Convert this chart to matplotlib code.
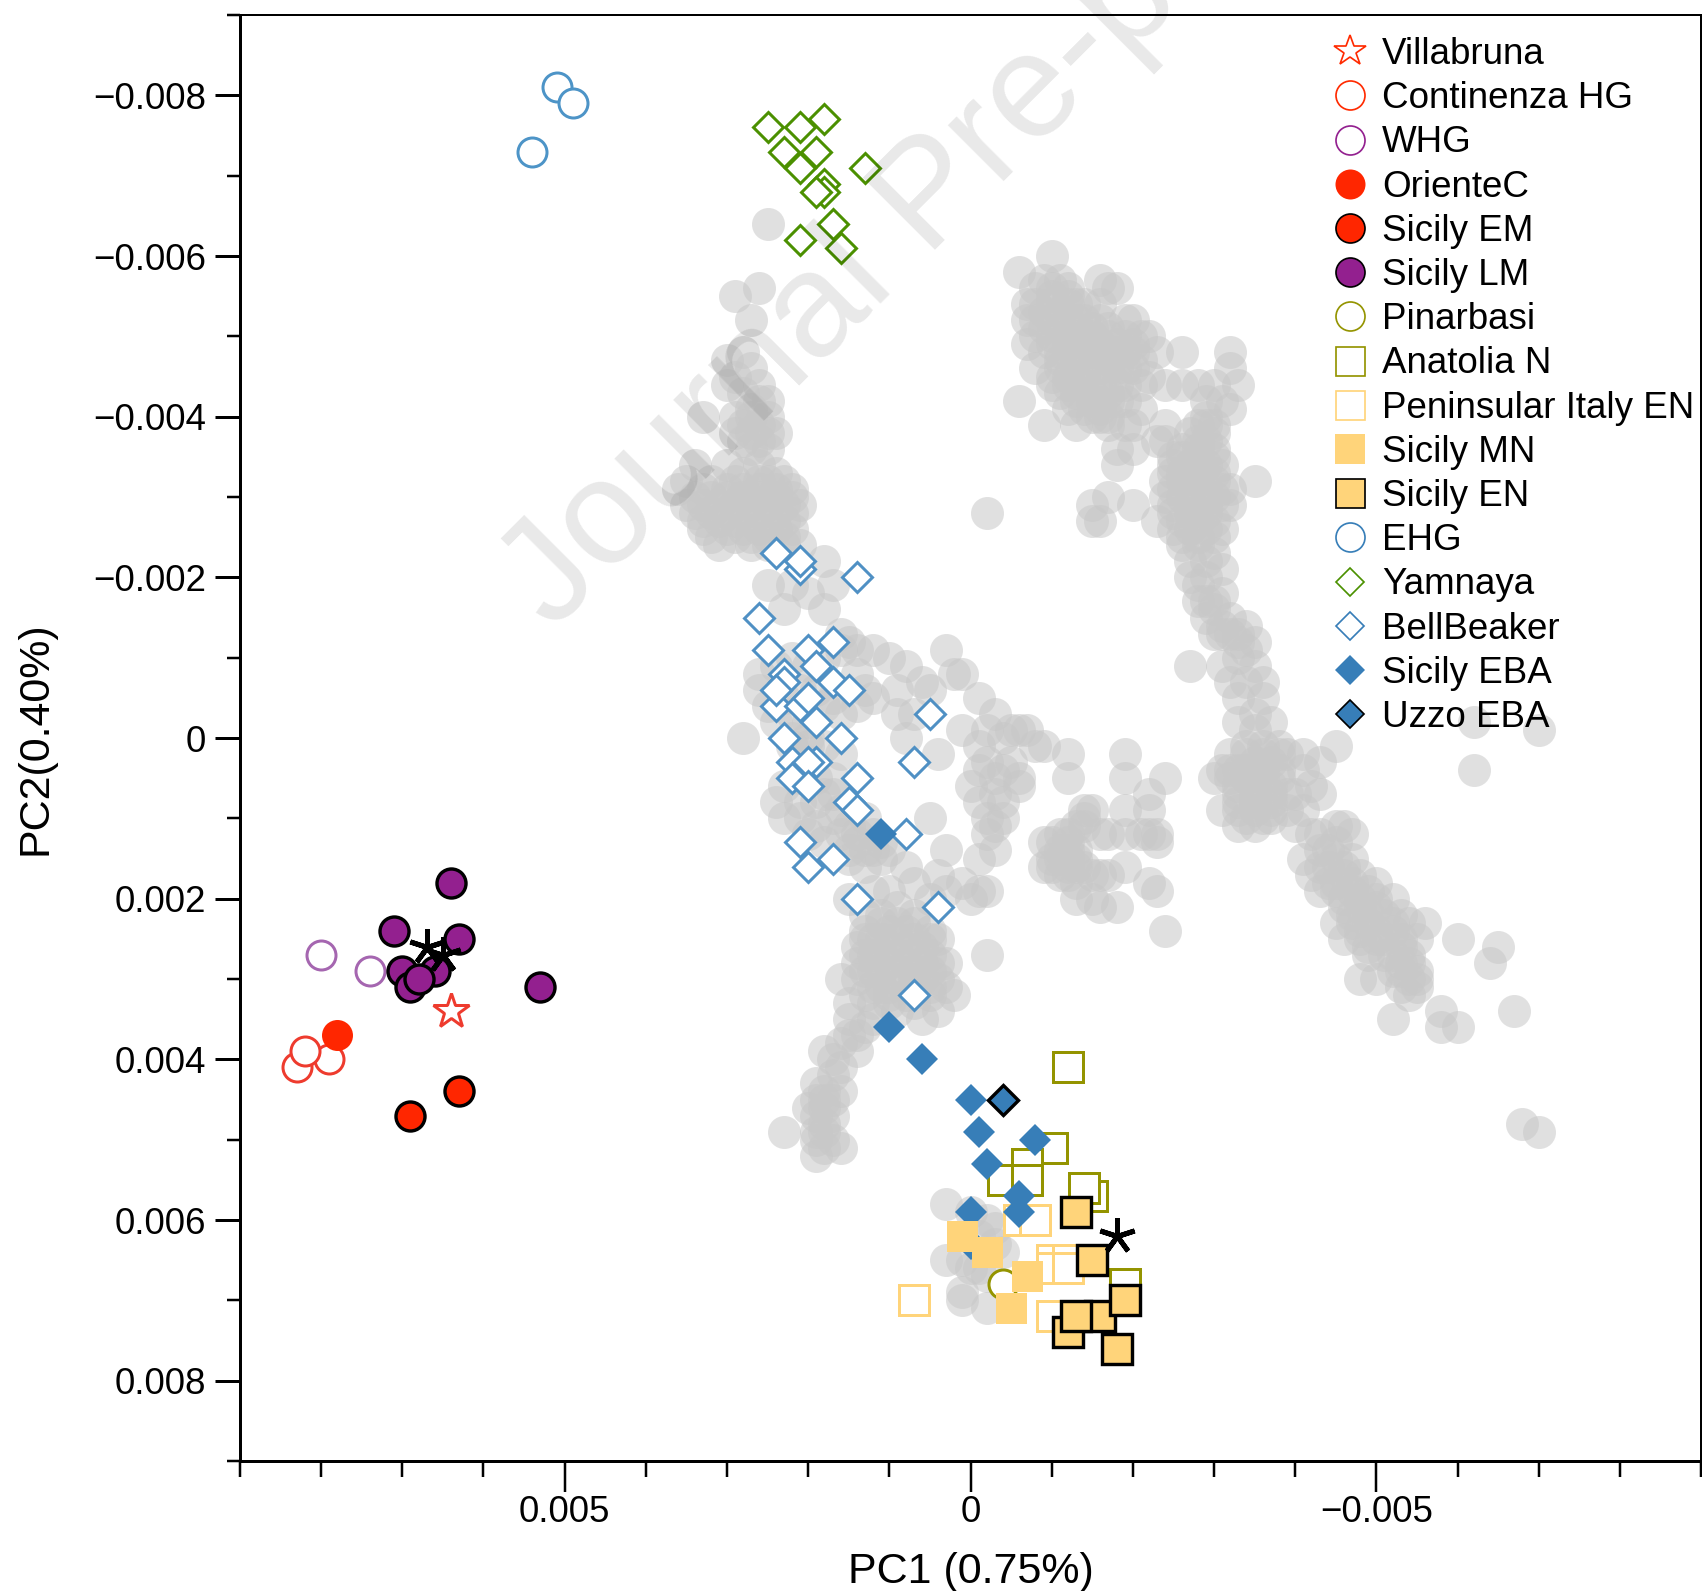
import numpy as np
import matplotlib
matplotlib.use("Agg")
import matplotlib.pyplot as plt
from matplotlib.lines import Line2D
from matplotlib.ticker import FixedLocator, NullFormatter

plt.rcParams['font.family'] = ['Liberation Sans', 'DejaVu Sans']

# all values in thousandths of a PC unit
villabruna = [(6.4, 3.4)]
continenza = [(8.3, 4.1), (7.9, 4.0), (8.2, 3.9)]
whg = [(8.0, 2.7), (7.4, 2.9)]
oriente = [(7.8, 3.7)]
sicily_em = [(6.9, 4.7), (6.3, 4.4)]
sicily_lm = [(6.4, 1.8), (7.1, 2.4), (6.3, 2.5), (6.6, 2.9), (7.0, 2.9), (6.9, 3.1), (6.8, 3.0), (5.3, 3.1)]
pinarbasi = [(-0.4, 6.8)]
anatolia = [(-1.2, 4.1), (-1.0, 5.1), (-0.7, 5.3), (-0.4, 5.5), (-0.7, 5.5), (-1.5, 5.7), (-1.4, 5.6), (-1.9, 6.8)]
peninsular = [(-0.6, 6.0), (-0.8, 6.0), (0.7, 7.0), (-1.0, 6.5), (-1.2, 6.5), (-1.0, 6.6), (-1.2, 6.6), (-1.0, 7.2)]
sicily_mn = [(0.1, 6.2), (-0.2, 6.4), (-0.7, 6.7), (-0.5, 7.1)]
sicily_en = [(-1.3, 5.9), (-1.5, 6.5), (-1.2, 7.4), (-1.6, 7.2), (-1.3, 7.2), (-1.9, 7.0), (-1.8, 7.6)]
ehg = [(5.1, -8.1), (4.9, -7.9), (5.4, -7.3)]
yamnaya = [(2.5, -7.6), (2.1, -7.6), (1.8, -7.7), (2.3, -7.3), (1.9, -7.3), (2.1, -7.1), (1.3, -7.1),
           (1.8, -6.9), (1.8, -6.8), (1.9, -6.8), (1.7, -6.4), (2.1, -6.2), (1.6, -6.1)]
bellbeaker = [(2.4, -2.3), (2.1, -2.1), (2.1, -2.2), (1.4, -2.0), (2.6, -1.5), (2.5, -1.1), (2.0, -1.1), (1.7, -1.2),
              (2.3, -0.8), (1.9, -0.9), (2.3, -0.7), (1.7, -0.7), (2.4, -0.4), (2.4, -0.6), (2.1, -0.4), (2.0, -0.5),
              (1.5, -0.6), (1.9, -0.2), (0.5, -0.3), (2.3, 0.0), (1.6, 0.0), (0.7, 0.3), (2.2, 0.3), (1.9, 0.3),
              (2.0, 0.3), (2.2, 0.5), (2.0, 0.6), (1.4, 0.5), (1.5, 0.8), (1.4, 0.9), (2.1, 1.3), (1.7, 1.5), (2.0, 1.6),
              (0.8, 1.2), (1.4, 2.0), (0.4, 2.1), (0.7, 3.2)]
sicily_eba = [(1.1, 1.2), (1.0, 3.6), (0.6, 4.0), (0.0, 4.5), (-0.1, 4.9), (-0.2, 5.3), (-0.8, 5.0), (-0.6, 5.7),
              (-0.6, 5.9), (0.0, 5.9), (0.0, 6.3)]
uzzo_eba = [(-0.4, 4.5)]
asterisks = [(6.7, 2.6), (6.5, 2.7), (-1.8, 6.2)]

# grey background samples, region by region
gray_left_arm = [(2.5, -6.4), (2.9, -5.5), (2.6, -5.6), (2.7, -5.2), (3.0, -4.7), (2.8, -4.8), (2.9, -4.5), (3.0, -4.4),
                 (2.7, -4.6), (2.6, -4.4), (2.8, -4.3), (2.6, -4.2), (2.7, -4.1), (2.5, -4.2), (2.9, -4.0), (3.3, -4.0),
                 (2.7, -4.0), (2.5, -4.0), (2.8, -3.9), (2.6, -3.9), (2.9, -3.8), (2.7, -3.8), (2.5, -3.8), (2.4, -3.8),
                 (2.6, -3.7), (2.8, -3.7), (2.5, -3.6), (2.7, -3.6), (3.4, -3.4), (3.0, -3.4), (2.6, -3.4), (2.4, -3.3),
                 (2.8, -3.3), (3.2, -3.2), (3.5, -3.2), (2.9, -3.2), (2.6, -3.2), (2.5, -3.2), (2.3, -3.2),
                 (3.6, -3.1), (3.3, -3.1), (3.0, -3.1), (2.8, -3.1), (2.6, -3.1), (2.4, -3.1), (2.2, -3.1),
                 (3.4, -3.0), (3.2, -3.0), (3.0, -3.0), (2.8, -3.0), (2.6, -3.0), (2.4, -3.0), (2.2, -3.0),
                 (3.5, -2.9), (3.3, -2.9), (3.1, -2.9), (2.9, -2.9), (2.7, -2.9), (2.5, -2.9), (2.3, -2.9), (2.1, -2.9),
                 (3.4, -2.8), (3.2, -2.8), (3.0, -2.8), (2.8, -2.8), (2.6, -2.8), (2.4, -2.8), (2.2, -2.8),
                 (3.3, -2.7), (3.1, -2.7), (2.9, -2.7), (2.7, -2.7), (2.5, -2.7), (2.3, -2.7),
                 (3.3, -2.6), (3.0, -2.6), (2.8, -2.6), (2.6, -2.6), (2.4, -2.6), (2.2, -2.6),
                 (3.2, -2.5), (2.9, -2.5), (2.7, -2.5), (2.5, -2.5), (2.3, -2.5), (3.1, -2.4), (2.7, -2.4), (2.5, -2.4), (2.3, -2.4)]
gray_mid_arm = [(2.1, -2.4), (2.5, -1.9), (2.3, -1.6), (1.8, -1.6), (1.7, -1.9), (1.8, -2.2), (2.0, -1.8), (2.2, -1.9),
                (1.6, -1.3), (1.5, -1.2), (1.4, -1.1), (1.2, -1.1), (1.0, -1.0), (0.8, -0.9), (0.3, -1.1), (0.6, -0.7),
                (0.2, -0.8), (0.1, -0.8), (0.9, -0.3), (0.7, -0.3), (0.9, -0.6), (0.8, 0.0), (0.5, -0.6), (0.4, 0.2),
                (0.1, -0.1), (-0.1, 0.1), (0.5, 1.0), (0.3, 1.4), (2.8, 0.0), (2.6, -0.6), (2.6, -0.8), (2.4, -0.9),
                (2.2, -1.0), (2.0, -0.9), (1.8, -1.0), (1.6, -1.1), (1.4, -0.8), (1.3, -0.6), (2.5, -0.4), (2.4, -0.2),
                (2.2, -0.3), (2.0, -0.2), (1.8, -0.4), (1.6, -0.3), (1.4, -0.4), (1.2, -0.5), (2.2, 0.1), (2.0, 0.1),
                (1.8, 0.1), (1.6, 0.2), (2.4, 0.8), (2.3, 0.6), (2.1, 0.8), (1.9, 0.8), (1.7, 0.7), (2.3, 1.0), (2.1, 1.0),
                (1.9, 1.1), (1.7, 1.0), (1.5, 1.1), (1.3, 1.0), (1.2, 1.4), (1.4, 1.3), (1.6, 1.2), (1.8, 1.3), (2.0, 1.2),
                (1.3, 1.6), (1.1, 1.5), (1.0, 1.4), (1.5, 1.5), (1.0, 1.9), (0.8, 1.6), (0.7, 1.8), (1.5, 2.0), (1.3, 2.2),
                (1.2, 1.9), (0.4, 1.7), (0.5, 2.0), (0.3, 1.9), (0.1, 1.8), (0.0, 2.0),
                (2.1, -0.6), (1.9, -0.6), (2.3, -0.5), (1.7, -0.5), (2.2, 0.0), (2.0, 0.0), (1.9, 0.5), (1.7, 0.5), (2.1, 0.5),
                (1.8, 0.7), (1.6, 0.9), (1.4, 1.2), (1.2, 1.2), (1.5, 1.4), (1.3, 1.4), (1.1, 1.3)]
gray_low_blob = [(1.3, 2.4), (1.1, 2.2), (0.9, 2.1), (0.7, 2.2), (0.5, 2.4), (1.4, 2.6), (1.2, 2.5), (1.0, 2.4), (0.8, 2.4),
                 (0.6, 2.6), (0.4, 2.5), (0.3, 2.8), (1.4, 2.8), (1.2, 2.7), (1.0, 2.6), (0.8, 2.6), (0.6, 2.8), (0.4, 2.8),
                 (1.4, 3.0), (1.2, 2.9), (1.0, 2.8), (0.8, 2.8), (0.6, 3.0), (0.4, 3.0), (0.3, 3.1), (1.3, 3.2), (1.1, 3.1),
                 (0.9, 3.0), (0.7, 3.0), (0.5, 3.2), (1.2, 3.3), (1.0, 3.2), (0.8, 3.2), (0.9, 3.4), (1.6, 3.0), (1.5, 3.3),
                 (0.2, 3.2), (-0.2, 2.7), (0.4, 3.4), (0.6, 3.5), (1.2, 3.5), (1.5, 3.5), (1.6, 3.8), (1.3, 3.6), (1.4, 3.9),
                 (1.8, 3.9), (1.7, 4.2), (1.8, 4.4), (1.9, 4.3), (1.6, 4.4), (1.8, 4.6), (2.0, 4.6), (1.9, 4.7), (1.7, 4.7),
                 (1.9, 5.0), (1.8, 4.9), (1.6, 5.1), (2.3, 4.9), (1.9, 5.2),
                 (0.7, 2.3), (0.9, 2.3), (1.1, 2.3), (0.5, 2.5), (0.7, 2.5), (0.9, 2.5), (1.1, 2.5), (1.3, 2.5),
                 (0.5, 2.7), (0.7, 2.7), (0.9, 2.7), (1.1, 2.7), (1.3, 2.7), (0.5, 2.9), (0.7, 2.9), (0.9, 2.9), (1.1, 2.9), (1.3, 2.9),
                 (0.5, 3.1), (0.7, 3.1), (1.0, 3.1), (1.2, 3.1), (0.7, 3.3), (1.0, 3.3),
                 (1.8, 4.5), (1.9, 4.5), (1.8, 4.8), (1.7, 4.5), (1.9, 4.9), (1.7, 5.0), (1.8, 5.1), (1.6, 4.1), (1.7, 4.0), (1.5, 3.7), (1.4, 3.7)]
gray_sicily = [(0.3, 5.8), (0.0, 5.9), (-0.2, 6.0), (-0.3, 6.1), (-0.1, 6.2), (-0.3, 6.3), (-0.4, 6.4), (0.3, 6.5), (0.1, 6.5),
               (-0.1, 6.6), (-0.2, 6.7), (0.1, 6.9), (0.1, 7.0), (-0.2, 7.1), (0.0, 6.6)]
gray_top_right = [(-0.6, -5.8), (-1.0, -6.0), (-0.9, -5.7), (-1.1, -5.7), (-1.6, -5.7), (-1.7, -5.6), (-1.8, -5.6), (-1.6, -5.4),
                  (-0.8, -5.6), (-1.0, -5.5), (-1.2, -5.5), (-0.7, -5.4), (-0.9, -5.3), (-1.1, -5.3), (-1.3, -5.4), (-1.6, -5.2),
                  (-0.7, -5.2), (-0.9, -5.1), (-1.1, -5.1), (-1.3, -5.2), (-1.5, -5.1), (-1.7, -5.1), (-1.9, -5.2), (-2.0, -5.2),
                  (-0.7, -4.9), (-1.0, -4.9), (-1.2, -4.9), (-1.4, -5.0), (-1.6, -4.9), (-1.8, -4.9), (-2.0, -4.9), (-2.2, -5.0),
                  (-1.1, -4.7), (-1.3, -4.7), (-1.5, -4.8), (-1.7, -4.7), (-1.9, -4.8), (-2.1, -4.7), (-2.3, -4.8), (-2.6, -4.8),
                  (-0.8, -4.6), (-1.0, -4.5), (-1.2, -4.5), (-1.4, -4.5), (-1.6, -4.6), (-1.8, -4.6), (-2.0, -4.6), (-2.2, -4.5),
                  (-1.1, -4.3), (-1.3, -4.3), (-1.5, -4.3), (-1.7, -4.3), (-1.9, -4.4), (-2.1, -4.4), (-2.4, -4.4), (-2.6, -4.4),
                  (-1.2, -4.1), (-1.4, -4.1), (-1.6, -4.1), (-1.8, -4.2), (-0.6, -4.2), (-0.9, -3.9), (-1.3, -3.9), (-1.6, -4.0),
                  (-2.0, -3.9), (-2.1, -4.1), (-2.3, -3.7), (-2.0, -3.6), (-1.8, -3.6), (-1.8, -3.4), (-1.5, -2.9), (-1.7, -3.0),
                  (-1.6, -2.7), (-1.5, -2.7), (-2.0, -2.9), (-2.4, -3.9), (-2.4, -3.7), (-1.9, -3.9), (-1.7, -3.9),
                  (-1.0, -5.6), (-1.2, -5.6), (-0.8, -5.4), (-1.0, -5.4), (-1.2, -5.4), (-1.4, -5.4), (-0.8, -5.2), (-1.0, -5.2),
                  (-1.2, -5.2), (-1.4, -5.2), (-0.8, -5.0), (-1.0, -5.0), (-1.2, -5.0), (-1.3, -5.0), (-1.5, -5.0), (-1.7, -5.0),
                  (-1.9, -5.0), (-2.1, -5.0), (-0.9, -4.8), (-1.1, -4.8), (-1.2, -4.8), (-1.4, -4.8), (-1.6, -4.8), (-1.8, -4.8),
                  (-2.0, -4.8), (-1.1, -4.6), (-1.3, -4.6), (-1.5, -4.6), (-1.7, -4.6), (-1.9, -4.6), (-1.0, -4.4), (-1.2, -4.4),
                  (-1.4, -4.4), (-1.6, -4.4), (-1.8, -4.4), (-1.3, -4.2), (-1.5, -4.2), (-1.7, -4.2), (-1.9, -4.2), (-1.5, -4.0), (-1.7, -4.0)]
gray_right_arm = [(-3.2, -4.8), (-3.2, -4.6), (-3.3, -4.4), (-3.0, -4.4), (-2.8, -4.4), (-3.1, -4.2), (-3.2, -4.1),
                  (-2.9, -4.2), (-2.9, -4.0), (-2.8, -3.9), (-3.0, -3.8), (-2.7, -3.8), (-2.6, -3.6), (-2.8, -3.6), (-3.0, -3.6),
                  (-3.1, -3.4), (-2.5, -3.4), (-2.7, -3.4), (-2.9, -3.4), (-3.0, -3.2), (-2.4, -3.2), (-2.6, -3.2), (-2.8, -3.2),
                  (-3.5, -3.2), (-3.2, -3.1), (-2.4, -3.0), (-2.6, -3.0), (-2.8, -3.0), (-3.0, -3.0), (-3.2, -2.9), (-2.5, -2.8),
                  (-2.7, -2.8), (-2.9, -2.8), (-2.3, -2.7), (-2.5, -2.6), (-2.7, -2.6), (-2.9, -2.6), (-3.1, -2.6), (-2.6, -2.4),
                  (-2.8, -2.4), (-3.0, -2.3), (-2.7, -2.2), (-2.9, -2.2), (-3.1, -2.1), (-2.7, -2.0), (-2.9, -2.0), (-2.8, -1.9),
                  (-3.1, -1.8), (-2.8, -1.7), (-3.0, -1.6), (-3.1, -1.4), (-3.2, -1.5), (-2.9, -1.5), (-3.0, -1.3), (-3.2, -1.3),
                  (-3.4, -1.4), (-3.3, -1.3), (-3.5, -1.2), (-2.7, -0.9), (-3.1, -0.9), (-3.3, -1.0), (-3.4, -1.1), (-3.5, -0.9),
                  (-3.6, -0.7), (-3.2, -0.7), (-3.4, -0.7), (-3.6, -0.5), (-3.3, -0.5), (-3.5, -0.3), (-3.3, -0.2), (-3.5, -0.1),
                  (-3.7, -0.2), (-3.4, 0.1), (-3.6, 0.1), (-3.8, 0.1), (-3.2, 0.2), (-3.3, 0.4), (-3.5, 0.3), (-3.7, 0.3),
                  (-3.9, 0.2), (-3.1, 0.4), (-3.0, 0.5), (-3.2, 0.5), (-3.4, 0.5), (-3.6, 0.5), (-3.8, 0.5), (-4.1, 0.2),
                  (-4.1, 0.4), (-4.3, 0.3), (-4.2, 0.6), (-4.3, 0.7), (-4.0, 0.7), (-4.5, 0.1), (-3.3, 0.7), (-3.5, 0.7), (-3.7, 0.7),
                  (-3.9, 0.7), (-3.1, 0.9), (-3.3, 0.9), (-3.5, 0.9), (-3.7, 0.9), (-3.9, 0.9), (-4.1, 0.9), (-3.3, 1.1), (-3.5, 1.1),
                  (-3.7, 1.0), (-4.0, 1.1), (-4.2, 1.2), (-4.4, 1.4),
                  (-2.9, -3.9), (-3.0, -3.9), (-2.8, -3.7), (-2.9, -3.7), (-2.6, -3.5), (-2.8, -3.5), (-3.0, -3.5), (-2.5, -3.5),
                  (-2.6, -3.3), (-2.8, -3.3), (-3.0, -3.3), (-2.5, -3.3), (-2.5, -3.1), (-2.7, -3.1), (-2.9, -3.1), (-3.1, -3.1),
                  (-2.5, -2.9), (-2.7, -2.9), (-2.9, -2.9), (-3.1, -2.9), (-2.6, -2.7), (-2.8, -2.7), (-3.0, -2.7), (-2.6, -2.5),
                  (-2.8, -2.5), (-3.0, -2.5), (-2.9, -1.7), (-3.0, -1.7), (-3.1, -1.3), (-3.3, -1.2),
                  (-3.4, 0.2), (-3.6, 0.2), (-3.8, 0.2), (-3.4, 0.4), (-3.6, 0.4), (-3.8, 0.4), (-3.2, 0.4), (-3.3, 0.6), (-3.5, 0.6),
                  (-3.7, 0.6), (-3.3, 0.8), (-3.5, 0.8), (-3.7, 0.8), (-3.4, 1.0), (-3.6, 1.0)]
gray_band = [(-4.3, 1.2), (-4.5, 1.1), (-4.6, 1.1), (-4.7, 1.2), (-4.5, 1.3), (-4.3, 1.4), (-4.1, 1.5), (-4.3, 1.6), (-4.5, 1.5),
             (-4.7, 1.5), (-4.2, 1.7), (-4.4, 1.8), (-4.6, 1.7), (-4.8, 1.7), (-4.3, 1.9), (-4.5, 1.9), (-4.7, 1.9), (-4.9, 1.9),
             (-5.0, 1.8), (-4.6, 2.1), (-4.8, 2.1), (-5.0, 2.1), (-5.2, 2.0), (-4.5, 2.3), (-4.7, 2.3), (-4.9, 2.3), (-5.1, 2.2),
             (-5.3, 2.2), (-4.6, 2.5), (-4.8, 2.5), (-5.0, 2.5), (-5.2, 2.4), (-5.4, 2.3), (-5.6, 2.3), (-4.9, 2.7), (-5.1, 2.7),
             (-5.3, 2.6), (-5.5, 2.5), (-5.2, 2.9), (-5.4, 2.8), (-5.5, 3.0), (-5.0, 3.0), (-4.8, 3.0), (-5.3, 3.1), (-5.4, 3.2),
             (-5.5, 3.1), (-5.2, 3.5), (-5.8, 3.4), (-5.8, 3.6), (-6.0, 3.6), (-5.4, 3.0), (-5.3, 2.8),
             (-4.4, 1.6), (-4.6, 1.6), (-4.5, 1.8), (-4.7, 1.8), (-4.6, 2.0), (-4.8, 2.0), (-5.0, 2.0), (-4.7, 2.2), (-4.9, 2.2),
             (-4.8, 2.4), (-5.0, 2.4), (-5.2, 2.3), (-4.9, 2.6), (-5.1, 2.5), (-5.3, 2.5), (-5.2, 2.7), (-5.3, 2.9), (-5.4, 2.7), (-5.5, 2.9)]
gray_center = [(-0.1, -0.5), (-0.3, -0.3), (-0.4, 0.0), (-0.2, -0.1), (-0.5, -0.1), (-0.6, -0.1), (-0.7, -0.1), (-0.1, 0.4),
               (0.0, 0.6), (-0.2, 0.3), (-0.3, 0.5), (-0.4, 0.4), (-0.5, 0.3), (-0.6, 0.6), (-0.3, 0.7), (-0.1, 0.8), (-0.4, 0.8),
               (-0.6, 0.5), (-0.2, 1.0), (-0.3, 1.1), (-0.2, 1.2), (-0.4, 1.0), (-0.1, 1.5), (-0.2, 1.9), (-0.1, 1.9), (-0.3, 1.4),
               (-0.8, 0.1), (-1.2, 0.2), (-0.9, 0.1), (-1.2, 0.5), (-1.9, 0.2), (-1.9, 0.5), (-1.9, 0.9), (-2.2, 0.7), (-2.4, 0.5),
               (-2.2, 0.9), (-2.3, 1.2), (-2.3, 1.3), (-2.2, 1.2), (-1.4, 0.9), (-1.5, 0.9), (-1.4, 1.0), (-1.4, 1.1), (-1.3, 1.1),
               (-1.2, 1.2), (-1.1, 1.2), (-1.0, 1.3), (-0.9, 1.3), (-1.2, 1.4), (-1.3, 1.4), (-1.0, 1.6), (-0.9, 1.6), (-1.2, 1.6),
               (-1.3, 1.6), (-1.4, 1.6), (-1.1, 1.7), (-1.3, 1.8), (-1.5, 1.7), (-1.6, 1.7), (-1.3, 2.0), (-1.5, 2.0), (-1.6, 2.1),
               (-1.8, 2.1), (-1.7, 1.7), (-1.9, 1.2), (-1.7, 1.2), (-1.6, 1.2), (-2.1, 1.2), (-2.2, 1.8), (-2.3, 1.9), (-2.4, 2.4),
               (-1.9, 1.6), (-1.2, 1.5), (-1.1, 1.5), (-1.2, 1.3), (-1.3, 1.5), (-1.0, 1.5), (-1.1, 1.4), (-1.2, 1.7)]
gray_outliers = [(-6.2, -0.2), (-7.0, -0.1), (-6.2, 0.4), (-6.0, 2.5), (-6.5, 2.6), (-6.4, 2.8), (-6.7, 3.4), (-6.8, 4.8),
                 (-7.0, 4.9), (-0.2, -2.8)]
gray_groups = [gray_left_arm, gray_mid_arm, gray_low_blob, gray_sicily, gray_top_right, gray_right_arm, gray_band,
               gray_center, gray_outliers]

x_tick_values = [0.005, 0, -0.005]
x_tick_labels = ['0.005', '0', '\u22120.005']
y_tick_values = [-0.008, -0.006, -0.004, -0.002, 0, 0.002, 0.004, 0.006, 0.008]
y_tick_labels = ['\u22120.008', '\u22120.006', '\u22120.004', '\u22120.002', '0', '0.002', '0.004', '0.006', '0.008']

W, H = 1702, 1591
DPI = 100
px = 72 / DPI  # pixels to points

fig = plt.figure(figsize=(W / DPI, H / DPI), dpi=DPI, facecolor='white')
ax = fig.add_axes([240 / W, 1 - 1461 / H, 1461 / W, 1446 / H])
ax.set_xlim(0.009, -0.009)
ax.set_ylim(0.009, -0.009)

for group in gray_groups:
    g = np.array(group) * 1e-3
    ax.scatter(g[:, 0], g[:, 1], s=(33 * px) ** 2, color='#c8c8c8', alpha=0.55, linewidths=0, zorder=2)


def draw(points, marker, ms, face, edge, mew=3.4, z=3):
    p = np.array(points) * 1e-3
    ax.plot(p[:, 0], p[:, 1], ls='none', marker=marker, ms=ms * px, mfc=face, mec=edge, mew=mew * px, zorder=z)


BLUE = '#377eb8'
draw(villabruna, '*', 37, 'white', '#ee3b2e', 3)
draw(continenza, 'o', 29, 'white', '#ee3b2e', 3)
draw(whg, 'o', 29, 'white', '#a566b0', 3)
draw(oriente, 'o', 31, '#ff2600', 'none', 0)
draw(sicily_em, 'o', 29, '#ff2600', 'black')
draw(sicily_lm, 'o', 29, '#93208f', 'black')
draw(asterisks[:2], (5, 2, 0), 36, 'black', 'black', 5, 4)
draw(anatolia, 's', 30, 'white', '#949400', 3)
draw(pinarbasi, 'o', 29, 'white', '#949400', 3)
draw(peninsular, 's', 30, 'white', '#ffd47a', 3)
draw(bellbeaker, 'D', 21.5, 'white', '#4f90c4', 3)
draw(yamnaya, 'D', 21.5, 'white', '#4b9000', 3)
draw(ehg, 'o', 29, 'white', '#4d94c7', 3)
draw(sicily_eba, 'D', 23, BLUE, 'none', 0)
draw(uzzo_eba, 'D', 21.5, BLUE, 'black')
draw(asterisks[2:], (5, 2, 0), 36, 'black', 'black', 5, 4)
draw(sicily_mn, 's', 31, '#ffd47a', 'none', 0)
draw(sicily_en, 's', 30, '#ffd47a', 'black')

# watermark
fig.text(553 / W, 1 - 632 / H, 'Journal Pre-proof', fontsize=107, rotation=45, rotation_mode='anchor',
         ha='left', va='baseline', color='black', alpha=0.09, zorder=10)

# legend
def key(marker, ms, face, edge, mew=1.7):
    return Line2D([], [], ls='none', marker=marker, ms=ms * px, mfc=face, mec=edge, mew=mew * px)


legend_labels = ['Villabruna', 'Continenza HG', 'WHG', 'OrienteC', 'Sicily EM', 'Sicily LM', 'Pinarbasi', 'Anatolia N',
                 'Peninsular Italy EN', 'Sicily MN', 'Sicily EN', 'EHG', 'Yamnaya', 'BellBeaker', 'Sicily EBA', 'Uzzo EBA']
legend_keys = [key('*', 33, 'white', '#ff2a00'), key('o', 29, 'white', '#ff2a00'), key('o', 29, 'white', '#93208f'),
               key('o', 30, '#ff2600', 'none', 0), key('o', 29, '#ff2600', 'black'), key('o', 29, '#93208f', 'black'),
               key('o', 29, 'white', '#949400'), key('s', 29, 'white', '#949400'), key('s', 29, 'white', '#ffd47a'),
               key('s', 30, '#ffd47a', 'none', 0), key('s', 29, '#ffd47a', 'black'), key('o', 29, 'white', BLUE),
               key('D', 20, 'white', '#4b9000'), key('D', 20, 'white', BLUE), key('D', 21, BLUE, 'none', 0),
               key('D', 20, BLUE, 'black')]
leg = ax.legend(legend_keys, legend_labels, loc='upper left', bbox_to_anchor=(1332 / W, 1 - 37 / H),
                bbox_transform=fig.transFigure, frameon=False, fontsize=26.5, borderpad=0, borderaxespad=0,
                handlelength=1.0, handletextpad=0.36, labelspacing=0.25, numpoints=1)
leg.set_zorder(11)

# spines and ticks
ax.spines['left'].set_linewidth(3 * px)
ax.spines['bottom'].set_linewidth(3 * px)
ax.spines['top'].set_linewidth(2 * px)
ax.spines['right'].set_linewidth(2 * px)
ax.set_xticks(x_tick_values)
ax.set_xticklabels(x_tick_labels, fontsize=26.5)
ax.set_yticks(y_tick_values)
ax.set_yticklabels(y_tick_labels, fontsize=26.5)
ax.xaxis.set_minor_locator(FixedLocator([i * 1e-3 for i in range(-9, 10) if i % 5 != 0]))
ax.yaxis.set_minor_locator(FixedLocator([i * 1e-3 for i in range(-9, 10) if i % 2 != 0]))
ax.xaxis.set_minor_formatter(NullFormatter())
ax.yaxis.set_minor_formatter(NullFormatter())
ax.tick_params(axis='x', which='major', length=31 * px, width=2.5 * px, pad=2)
ax.tick_params(axis='x', which='minor', length=16 * px, width=2.5 * px)
ax.tick_params(axis='y', which='major', length=25 * px, width=3 * px, pad=6.3)
ax.tick_params(axis='y', which='minor', length=13 * px, width=2.5 * px)
ax.set_xlabel('PC1 (0.75%)', fontsize=31, labelpad=16)
ax.set_ylabel('PC2(0.40%)', fontsize=31, labelpad=27)

fig.savefig('out.png', dpi=DPI)
